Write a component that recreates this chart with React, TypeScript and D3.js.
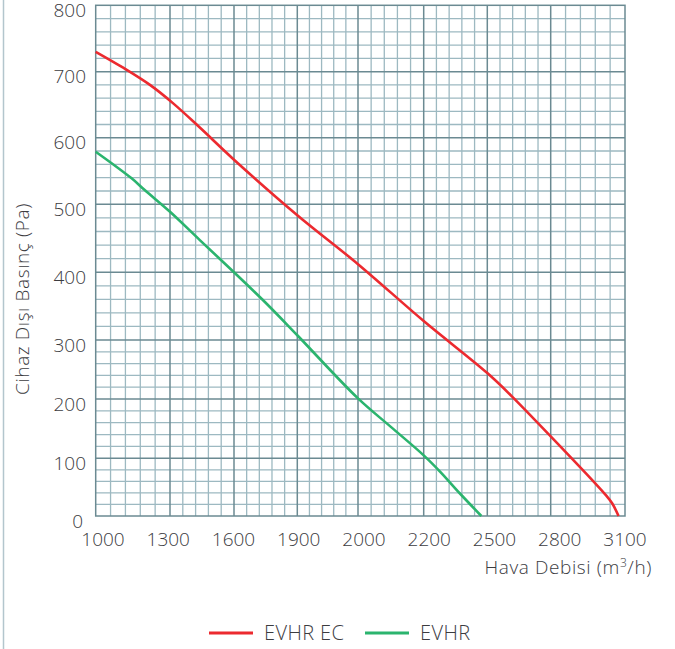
import React from 'react';
import * as d3 from 'd3';

// axis ticks as printed on the chart
const flowTicks = [1000, 1300, 1600, 1900, 2000, 2200, 2500, 2800, 3100];
const pressureTicks = [0, 100, 200, 300, 400, 500, 600, 700, 800];

// EVHR EC (red)
const evhrEcFlow = [1000, 1111, 1219, 1315, 1441, 1600, 1900, 2000, 2200, 2500, 2615, 2800, 2979, 3019, 3048, 3074];
const evhrEcPressure = [730, 706, 680, 652, 615, 567, 484, 412, 328, 244, 205, 137, 57, 38, 22, 0];

// EVHR (green)
const evhrFlow = [1000, 1145, 1199, 1300, 1441, 1600, 1750, 1900, 2000, 2100, 2200, 2277, 2371, 2472];
const evhrPressure = [579, 539, 521, 489, 447, 400, 355, 307, 201, 153, 105, 77, 39, 0];

const seriesNames = ['EVHR EC', 'EVHR'];
const seriesColors = ['#ec2a2f', '#2bb46e'];

const W = 675;
const H = 649;
const FONT = '"Open Sans", Lato, sans-serif';
const TEXT = '#3c3c3f';

const App = () => {
  // the printed grid is not evenly spaced, so both scales are piecewise
  const x = d3.scaleLinear()
    .domain(flowTicks)
    .range([95.7, 170, 234, 297.3, 358, 423.7, 487.3, 550.7, 625]);
  const y = d3.scaleLinear()
    .domain(pressureTicks)
    .range([516, 458.3, 399, 340, 272.3, 204.3, 137.7, 71.7, 5.3]);

  // tick labels sit on an even spacing of their own
  const xLabel = d3.scalePoint<number>().domain(flowTicks).range([103, 625]);

  const minors = (ticks: number[]) =>
    d3.pairs(ticks).flatMap(([a, b]) => d3.range(1, 5).map(k => a + (k * (b - a)) / 5));

  const xMinor = minors(flowTicks);
  const yMinor = minors(pressureTicks);

  const [x0, x1] = [x(flowTicks[0]), x(flowTicks[flowTicks.length - 1])];
  const [y0, y1] = [y(pressureTicks[0]), y(pressureTicks[pressureTicks.length - 1])];

  const line = d3.line<[number, number]>()
    .x(d => x(d[0]))
    .y(d => y(d[1]))
    .curve(d3.curveCatmullRom.alpha(0.5));

  const series = [
    d3.zip(evhrEcFlow, evhrEcPressure) as [number, number][],
    d3.zip(evhrFlow, evhrPressure) as [number, number][],
  ];

  const minorColor = '#9db9c1';
  const majorColor = '#6b8a92';

  return (
    <svg width={W} height={H} style={{ position: 'absolute', left: 0, top: 0, background: '#fff' }}>
      <line x1={3.5} x2={3.5} y1={0} y2={H} stroke="#b3c6cd" strokeWidth={1.5} />

      <g>
        {xMinor.map((v, i) => (
          <line key={`xm${i}`} x1={x(v)} x2={x(v)} y1={y1} y2={y0} stroke={minorColor} strokeWidth={1.3} />
        ))}
        {yMinor.map((v, i) => (
          <line key={`ym${i}`} x1={x0} x2={x1} y1={y(v)} y2={y(v)} stroke={minorColor} strokeWidth={1.3} />
        ))}
        {flowTicks.slice(1, -1).map(v => (
          <line key={`xM${v}`} x1={x(v)} x2={x(v)} y1={y1} y2={y0} stroke={majorColor} strokeWidth={1.5} />
        ))}
        {pressureTicks.slice(1, -1).map(v => (
          <line key={`yM${v}`} x1={x0} x2={x1} y1={y(v)} y2={y(v)} stroke={majorColor} strokeWidth={1.5} />
        ))}
        <rect x={x0} y={y1} width={x1 - x0} height={y0 - y1} fill="none" stroke={majorColor} strokeWidth={1.5} />
      </g>

      {series.map((s, i) => (
        <path key={seriesNames[i]} d={line(s) || ''} fill="none" stroke={seriesColors[i]} strokeWidth={2.6} />
      ))}

      <g fontFamily={FONT} fontWeight={300} fontSize={19} fill={TEXT}>
        {pressureTicks.map(v => (
          <text key={`yl${v}`} x={v === 0 ? 83 : 86} y={y(v) + 11.5} textAnchor="end">
            {v}
          </text>
        ))}
        {flowTicks.map(v => (
          <text key={`xl${v}`} x={xLabel(v)} y={546} textAnchor="middle">
            {v}
          </text>
        ))}
      </g>

      <text
        x={652}
        y={574}
        textAnchor="end"
        fontFamily={FONT}
        fontWeight={300}
        fontSize={19}
        letterSpacing={0.6}
        fill={TEXT}
      >
        Hava Debisi (m<tspan fontSize={12} dy={-7}>3</tspan><tspan dy={7}>/h)</tspan>
      </text>
      <text
        transform={`translate(29, 299) rotate(-90)`}
        textAnchor="middle"
        fontFamily={FONT}
        fontWeight={300}
        fontSize={19}
        letterSpacing={0.6}
        fill={TEXT}
      >
        Cihaz Dışı Basınç (Pa)
      </text>

      <g fontFamily={FONT} fontWeight={300} fontSize={20} letterSpacing={0.4} fill={TEXT}>
        {seriesNames.map((name, i) => {
          const lx = i === 0 ? 209 : 365;
          return (
            <g key={name}>
              <line x1={lx} x2={lx + 44} y1={633} y2={633} stroke={seriesColors[i]} strokeWidth={3} />
              <text x={lx + 55} y={640}>{name}</text>
            </g>
          );
        })}
      </g>
    </svg>
  );
};

export default App;
